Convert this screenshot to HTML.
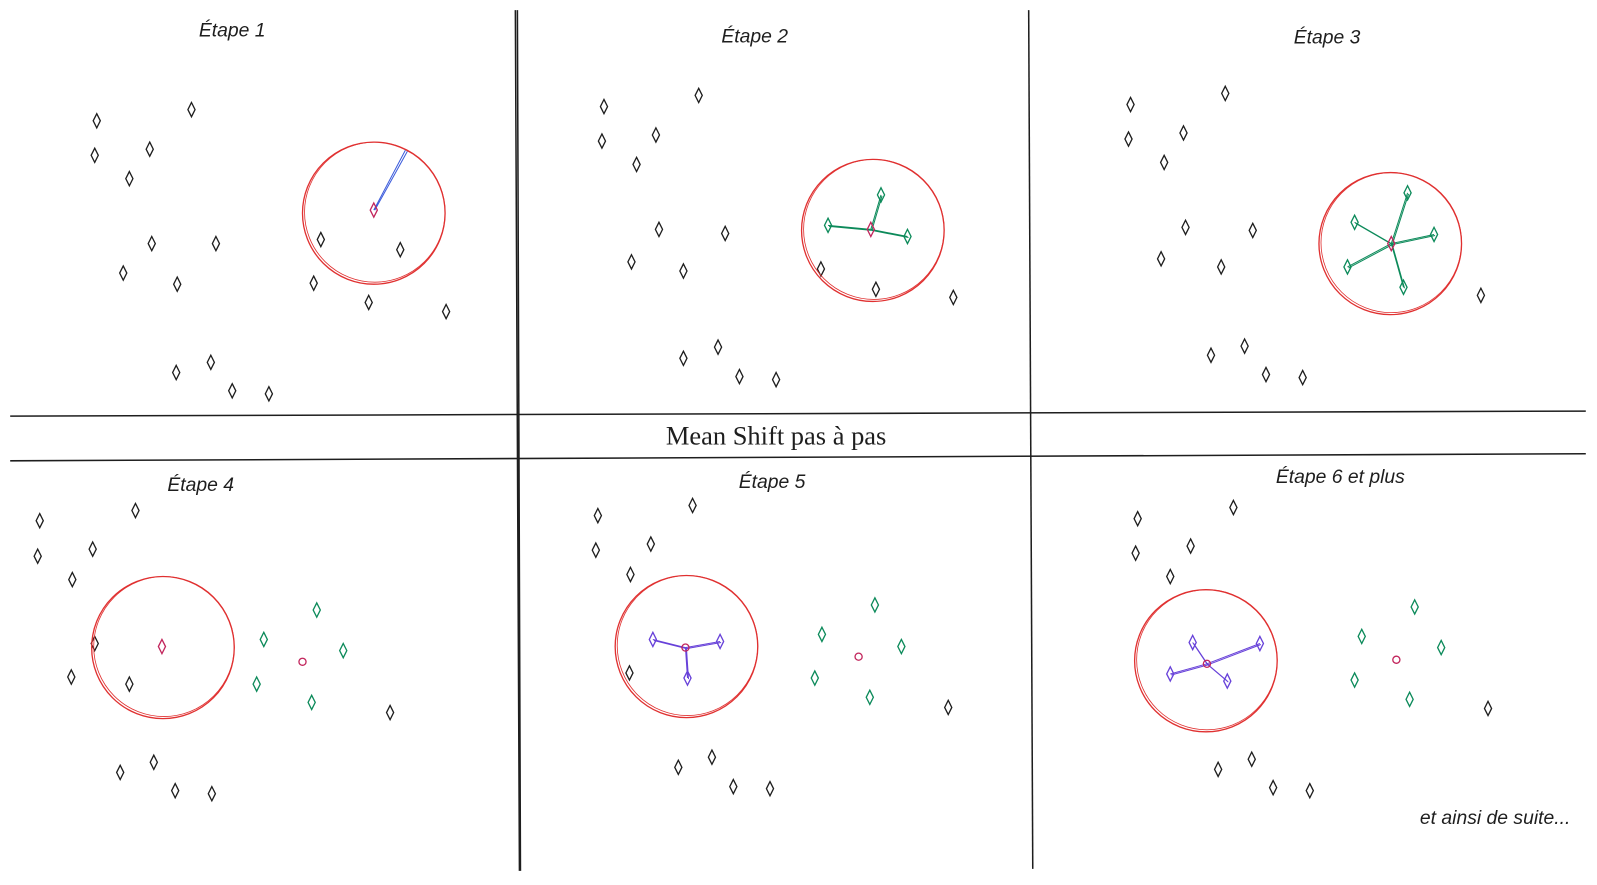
<!DOCTYPE html>
<html><head><meta charset="utf-8"><style>
html,body{margin:0;padding:0;background:#fff;}
svg{display:block;font-family:"Liberation Sans",sans-serif;}
</style></head><body>
<svg id="chart" width="1597" height="885" viewBox="0 0 1597 885" xmlns="http://www.w3.org/2000/svg">
<rect width="1597" height="885" fill="#fff"/>
<g transform="scale(1.0185,1.015)">
<g stroke="#1e1e1e" stroke-width="1.5" fill="none">
<path d="M10 410 L1557 405"/>
<path d="M10 454 L1557 447"/>
<path d="M506 10 L510 858 M508 10 L511 858"/>
<path d="M1010 10 L1014 856"/>
</g>
<text x="762" y="438" text-anchor="middle" font-family="Liberation Serif,serif" font-size="26" fill="#1e1e1e">Mean Shift pas à pas</text>
<g id="labels" font-size="19" fill="#1e1e1e" font-style="italic"></g>
<g id="marks"></g>
</g>
</svg>
<script>
const panelLabels=["Étape 1","Étape 2","Étape 3","Étape 4","Étape 5","Étape 6 et plus"];
const labelPos=[[228,36],[741,42],[1303,43],[197,484],[758,481],[1316,476]];
const pts1=[[95,119,"k"],[188,108,"k"],[93,153,"k"],[147,147,"k"],[127,176,"k"],[149,240,"k"],[212,240,"k"],[121,269,"k"],[174,280,"k"],[315,236,"k"],[393,246,"k"],[308,279,"k"],[362,298,"k"],[438,307,"k"],[173,367,"k"],[207,357,"k"],[228,385,"k"],[264,388,"k"]];
const pts2=[[593,105,"k"],[686,94,"k"],[591,139,"k"],[644,133,"k"],[625,162,"k"],[647,226,"k"],[712,230,"k"],[620,258,"k"],[671,267,"k"],[865,192,"g"],[813,222,"g"],[891,233,"g"],[806,265,"k"],[860,285,"k"],[936,293,"k"],[671,353,"k"],[705,342,"k"],[726,371,"k"],[762,374,"k"]];
const pts3=[[1110,103,"k"],[1203,92,"k"],[1108,137,"k"],[1162,131,"k"],[1143,160,"k"],[1164,224,"k"],[1230,227,"k"],[1140,255,"k"],[1199,263,"k"],[1382,190,"g"],[1330,219,"g"],[1408,231,"g"],[1323,263,"g"],[1378,283,"g"],[1454,291,"k"],[1189,350,"k"],[1222,341,"k"],[1243,369,"k"],[1279,372,"k"]];
const pts4=[[39,513,"k"],[133,503,"k"],[37,548,"k"],[91,541,"k"],[71,571,"k"],[311,601,"g"],[259,630,"g"],[337,641,"g"],[252,674,"g"],[306,692,"g"],[93,634,"k"],[70,667,"k"],[127,674,"k"],[383,702,"k"],[118,761,"k"],[151,751,"k"],[172,779,"k"],[208,782,"k"]];
const pts5=[[587,508,"k"],[680,498,"k"],[585,542,"k"],[639,536,"k"],[619,566,"k"],[859,596,"g"],[807,625,"g"],[885,637,"g"],[800,668,"g"],[854,687,"g"],[641,630,"p"],[707,632,"p"],[675,668,"p"],[618,663,"k"],[931,697,"k"],[666,756,"k"],[699,746,"k"],[720,775,"k"],[756,777,"k"]];
const pts6=[[1117,511,"k"],[1211,500,"k"],[1115,545,"k"],[1169,538,"k"],[1149,568,"k"],[1389,598,"g"],[1337,627,"g"],[1415,638,"g"],[1330,670,"g"],[1384,689,"g"],[1171,633,"p"],[1237,634,"p"],[1149,664,"p"],[1205,671,"p"],[1461,698,"k"],[1196,758,"k"],[1229,748,"k"],[1250,776,"k"],[1286,779,"k"]];
const allPts=[pts1,pts2,pts3,pts4,pts5,pts6];
const centers=[[367,207],[855,226],[1366,240],[159,637],[673,638],[1185,654]];
const circles=[[367,210],[857,227],[1365,240],[160,638],[674,637],[1184,651]];
const radius=70;
const oldCenters=[null,null,null,[297,652],[843,647],[1371,650]];
const lineKey=[null,"g","g",null,"p","p"];
const colors={k:"#1e1e1e",g:"#0c8a5a",p:"#6741d9"};
const NS="http://www.w3.org/2000/svg";
const marks=document.getElementById('marks');
const labels=document.getElementById('labels');
function mk(tag,attrs,parent){const e=document.createElementNS(NS,tag);for(const k in attrs)e.setAttribute(k,attrs[k]);parent.appendChild(e);return e;}
function diamond(x,y,c,parent){return mk('path',{d:`M${x} ${y-7} L${x+3.5} ${y} L${x} ${y+7} L${x-3.5} ${y} Z`,fill:'none',stroke:c,'stroke-width':1.3},parent);}
panelLabels.forEach((t,i)=>{const e=mk('text',{x:labelPos[i][0],y:labelPos[i][1],'text-anchor':'middle'},labels);e.textContent=t;

});
const extra=mk('text',{x:1468,y:812,'text-anchor':'middle'},labels);extra.textContent="et ainsi de suite...";


allPts.forEach((pts,i)=>{
 const g=mk('g',{},marks);
 
 
 const [cx,cy]=centers[i];
 if(lineKey[i]){pts.filter(p=>p[2]===lineKey[i]).forEach(p=>{
   const l=mk('path',{d:`M${cx} ${cy} L${p[0]} ${p[1]} M${cx+1} ${cy+1} L${p[0]+1} ${p[1]+1}`,stroke:colors[lineKey[i]],'stroke-width':1,fill:'none'},g);
   
   });}
 if(i===0){const l=mk('path',{d:`M${cx} ${cy} L398 148 M${cx+1} ${cy} L400 149`,stroke:'#3b5bdb','stroke-width':1,fill:'none'},g);
   
   }
 pts.forEach(p=>{const d=diamond(p[0],p[1],colors[p[2]],g);
   
   });
 const c=mk('circle',{cx:circles[i][0],cy:circles[i][1],r:radius,fill:'none',stroke:'#e03131','stroke-width':1.3},g);
 
 
 const c2=mk('circle',{cx:circles[i][0]+1,cy:circles[i][1]-1,r:radius-1,fill:'none',stroke:'#e03131','stroke-width':0.8},g);
 
 
 const ctr=i<=3?diamond(cx,cy,'#c2255c',g):mk('circle',{cx:cx,cy:cy,r:3.5,fill:'none',stroke:'#c2255c','stroke-width':1.3},g);
 
 
 if(oldCenters[i]){const o=mk('circle',{cx:oldCenters[i][0],cy:oldCenters[i][1],r:3.5,fill:'none',stroke:'#c2255c','stroke-width':1.3},g);
   
   }
});
</script>
</body></html>
